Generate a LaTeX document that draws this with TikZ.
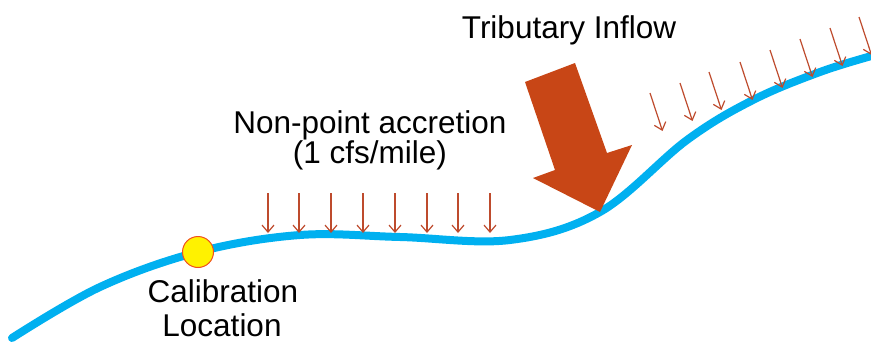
\documentclass[tikz,border=0pt]{standalone}
\usepackage{fontspec}
\setmainfont{Liberation Sans}
\usetikzlibrary{arrows.meta}
\definecolor{river}{RGB}{0,176,240}
\definecolor{smallarr}{RGB}{190,75,45}
\definecolor{bigarr}{RGB}{200,70,22}
\definecolor{dotred}{RGB}{240,80,30}
\tikzset{
  river/.style={draw=river, line width=8pt, line cap=round},
  accr/.style={draw=smallarr, line width=1.2pt, -{Straight Barb[length=7pt,width=12pt,line width=1.2pt]}},
  lbl/.style={font=\fontsize{31.5}{36}\selectfont, text=black, inner sep=0pt, anchor=base},
}
\begin{document}
\begin{tikzpicture}[x=1pt,y=-1pt]
\useasboundingbox (0,0) rectangle (871,343);
\draw[river] plot[smooth, tension=0.6] coordinates {(12,338) (100,287) (198,252) (300,235) (400,237) (510,240) (600,212) (687,140) (753,100) (820,72) (875,55)};
% big tributary arrow
\fill[bigarr] (525,82) -- (575,63) -- (607,153) -- (632,145) -- (600,212) -- (533,178) -- (555,170) -- cycle;
% flat accretion arrows
\foreach \x in {268,299,331,363,395,427,458,490}{
  \coordinate (a\x) at (\x,193);
  \coordinate (b\x) at (\x,233);
  \draw[accr] (a\x) -- (b\x);
}
% slanted accretion arrows
\foreach \i/\x/\y in {1/650/93,2/680/83,3/709/72,4/740/62,5/770/50,6/800/39,7/830/28,8/859/17}{
  \coordinate (s\i) at (\x,\y);
  \coordinate (e\i) at (\x+12.5,\y+38);
  \draw[accr] (s\i) -- (e\i);
}
% calibration location
\node[circle, draw=dotred, fill=yellow, line width=1pt, minimum size=31pt, inner sep=0pt] (cal) at (198,252) {};
\node[lbl] (calt) at (223,302) {Calibration};
\node[lbl] (calt2) at (222,336.5) {Location};
\node[lbl] (trib) at (569,38) {Tributary Inflow};
\node[lbl] (npa) at (370,133) {Non-point accretion};
\node[lbl] (npa2) at (370,163) {(1 cfs/mile)};
\end{tikzpicture}
\end{document}
